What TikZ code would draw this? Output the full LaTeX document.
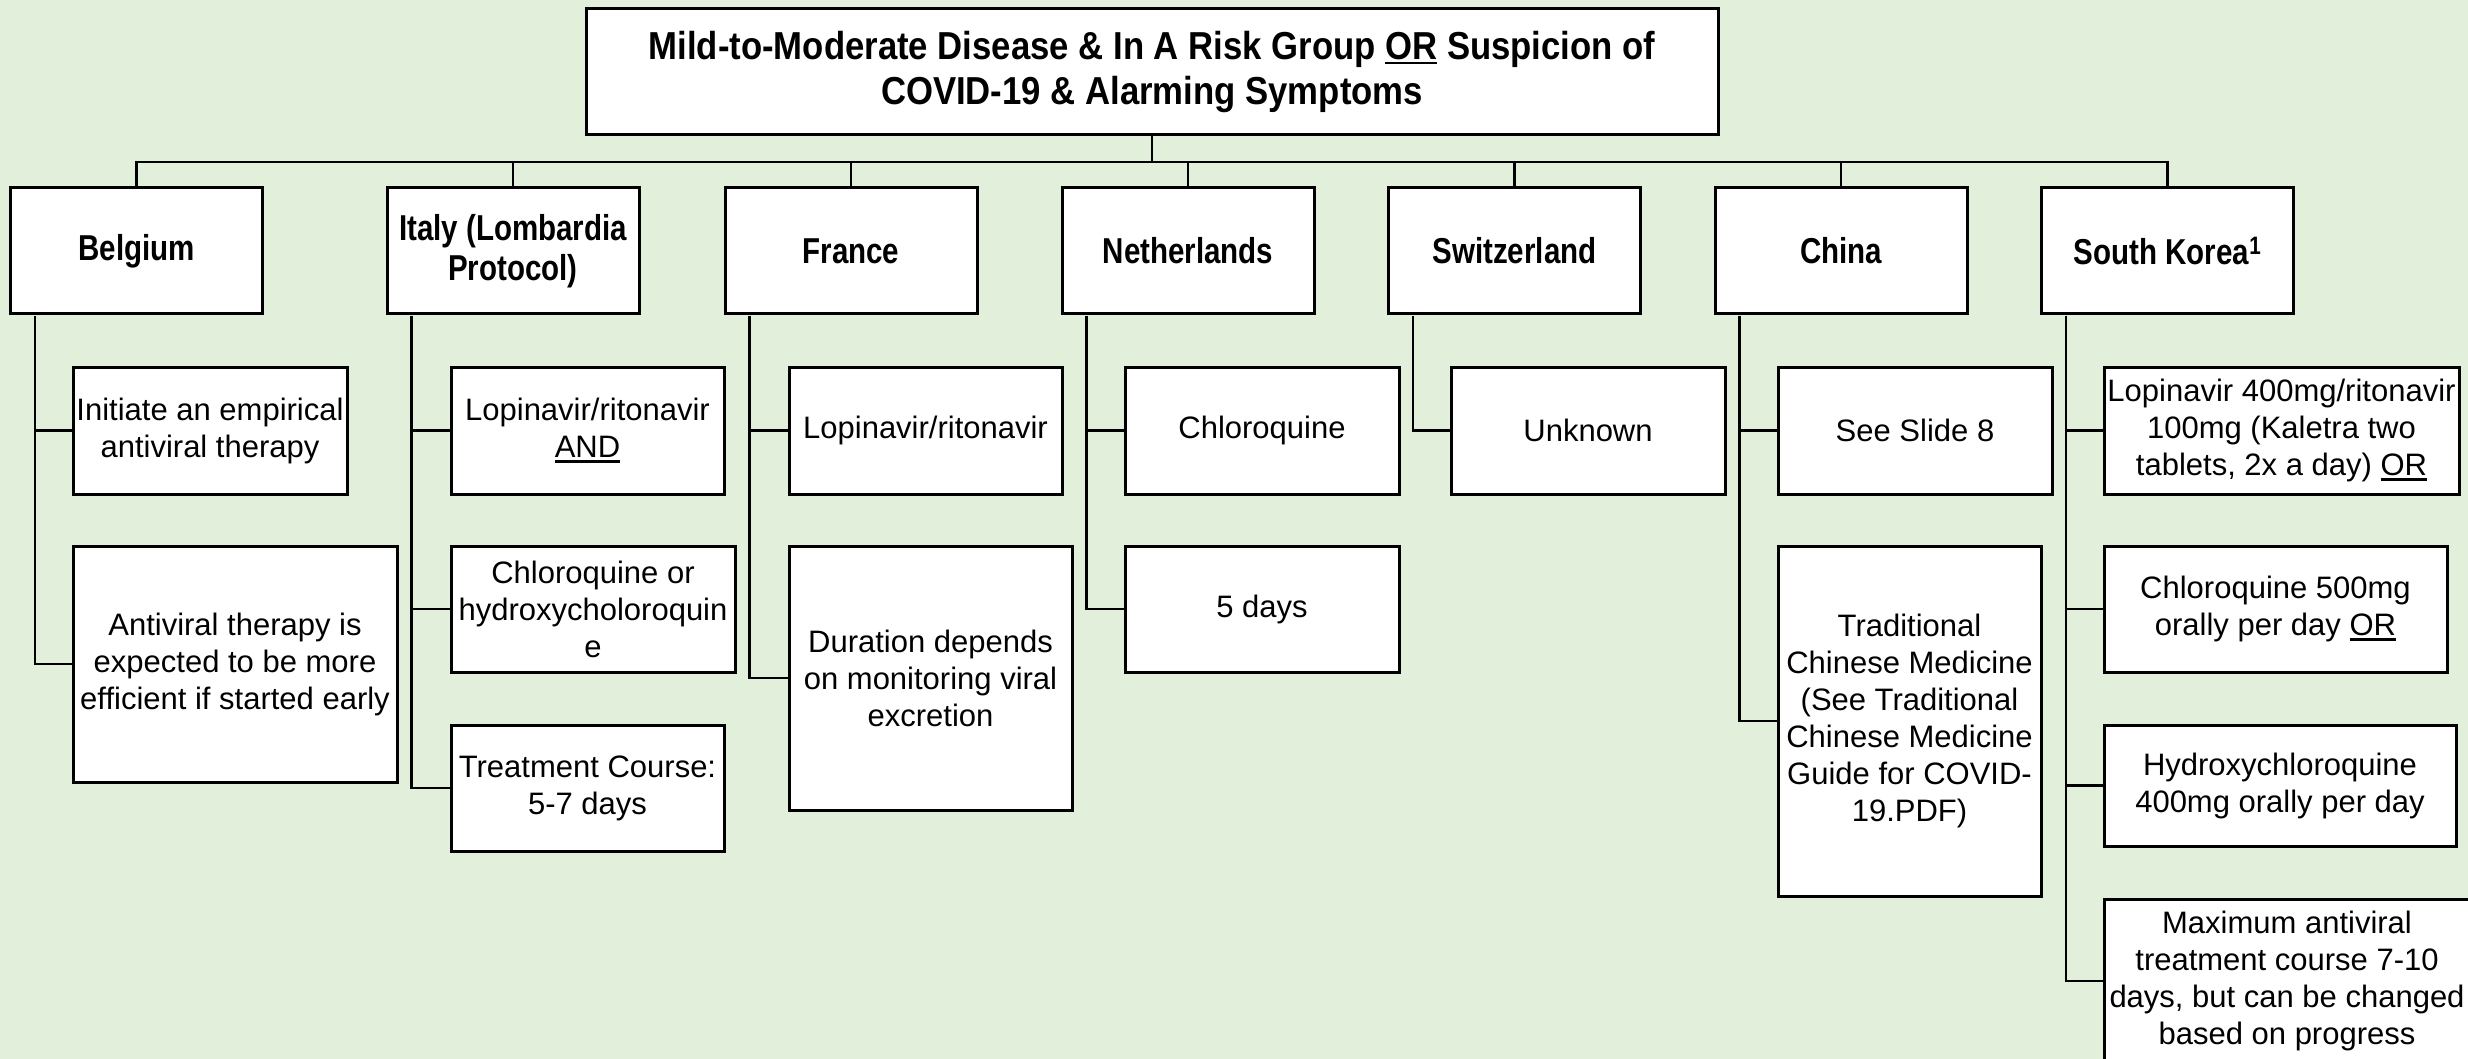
\documentclass[tikz,border=0pt]{standalone}
\usepackage{fontspec}
\setmainfont{Liberation Sans}
\newfontfamily\headfont[FakeStretch=0.82]{Liberation Sans}
\newfontfamily\titlefont[FakeStretch=0.89]{Liberation Sans}
\definecolor{bgc}{HTML}{E2EFDA}
\newsavebox\ulbox
\newcommand\myul[1]{\sbox\ulbox{#1}\rlap{\rule[-5pt]{\wd\ulbox}{2.5pt}}\usebox\ulbox}
\begin{document}
\begin{tikzpicture}[x=1pt,y=-1pt,
  box/.style={draw, line width=3pt, fill=white, inner sep=0pt, align=center,
    font=\fontsize{31}{37}\selectfont},
  head/.style={box, minimum width=252, minimum height=126,
    font=\headfont\bfseries\fontsize{36}{40}\selectfont},
  conn/.style={line width=2.5pt}]
\fill[bgc] (0,0) rectangle (2468,1059);
\useasboundingbox (0,0) rectangle (2468,1059);
\clip (0,0) rectangle (2468,1059);

% title
\node[box, minimum width=1132, minimum height=126,
  font=\titlefont\bfseries\fontsize{39}{45}\selectfont] (top) at (1152,72)
  {Mild-to-Moderate Disease \& In A Risk Group \myul{OR} Suspicion of\\COVID-19 \& Alarming Symptoms};

% level 1
\node[head] (B) at (136.5,251) {Belgium};
\node[head] (I) at (513,251) {Italy (Lombardia\\Protocol)};
\node[head] (F) at (851,251) {France};
\node[head] (N) at (1188,251) {Netherlands};
\node[head] (S) at (1514.5,251) {Switzerland};
\node[head] (C) at (1841,251) {China};
\node[head] (K) at (2167.5,251) {South Korea\textsuperscript{1}};

% children row 1
\node[box, minimum width=274, minimum height=127] (B1) at (210,430.5) {Initiate an empirical\\antiviral therapy};
\node[box, minimum width=273, minimum height=127] (I1) at (587.5,430.5) {Lopinavir/ritonavir\\\myul{AND}};
\node[box, minimum width=273, minimum height=127] (F1) at (925.5,430.5) {Lopinavir/ritonavir};
\node[box, minimum width=274, minimum height=127] (N1) at (1262,430.5) {Chloroquine};
\node[box, minimum width=274, minimum height=127] (S1) at (1588,430.5) {Unknown};
\node[box, minimum width=274, minimum height=127] (C1) at (1915,430.5) {See Slide 8};
\node[box, minimum width=355, minimum height=127] (K1) at (2281.5,430.5) {Lopinavir 400mg/ritonavir\\100mg (Kaletra two\\tablets, 2x a day) \myul{OR}};

% further children
\node[box, minimum width=324, minimum height=236] (B2) at (235,664) {Antiviral therapy is\\expected to be more\\efficient if started early};
\node[box, minimum width=284, minimum height=126] (I2) at (593,609) {Chloroquine or\\hydroxycholoroquin\\e};
\node[box, minimum width=273, minimum height=126] (I3) at (587.5,788) {Treatment Course:\\5-7 days};
\node[box, minimum width=283, minimum height=264] (F2) at (930.5,678) {Duration depends\\on monitoring viral\\excretion};
\node[box, minimum width=274, minimum height=126] (N2) at (1262,609) {5 days};
\node[box, minimum width=263, minimum height=350] (C2) at (1909.5,721) {Traditional\\Chinese Medicine\\(See Traditional\\Chinese Medicine\\Guide for COVID-\\19.PDF)};
\node[box, minimum width=343, minimum height=126] (K2) at (2275.5,609) {Chloroquine 500mg\\orally per day \myul{OR}};
\node[box, minimum width=352, minimum height=121] (K3) at (2280,785.5) {Hydroxychloroquine\\400mg orally per day};
\node[box, minimum width=366, minimum height=164] (K4) at (2287,981) {Maximum antiviral\\treatment course 7-10\\days, but can be changed\\based on progress};

% connectors from title
\coordinate (bus) at (1152,162);
\foreach \n in {B,I,F,N,S,C,K}{
  \draw[conn] (top.south) -- (bus) -| (\n.north);
}

% trunks
\draw[conn] ([xshift=26pt]B.south west) |- (B1.west);
\draw[conn] ([xshift=26pt]B.south west) |- (B2.west);
\draw[conn] ([xshift=26pt]I.south west) |- (I1.west);
\draw[conn] ([xshift=26pt]I.south west) |- (I2.west);
\draw[conn] ([xshift=26pt]I.south west) |- (I3.west);
\draw[conn] ([xshift=26pt]F.south west) |- (F1.west);
\draw[conn] ([xshift=26pt]F.south west) |- (F2.west);
\draw[conn] ([xshift=26pt]N.south west) |- (N1.west);
\draw[conn] ([xshift=26pt]N.south west) |- (N2.west);
\draw[conn] ([xshift=26pt]S.south west) |- (S1.west);
\draw[conn] ([xshift=26pt]C.south west) |- (C1.west);
\draw[conn] ([xshift=26pt]C.south west) |- (C2.west);
\draw[conn] ([xshift=26pt]K.south west) |- (K1.west);
\draw[conn] ([xshift=26pt]K.south west) |- (K2.west);
\draw[conn] ([xshift=26pt]K.south west) |- (K3.west);
\draw[conn] ([xshift=26pt]K.south west) |- (K4.west);
\end{tikzpicture}
\end{document}
